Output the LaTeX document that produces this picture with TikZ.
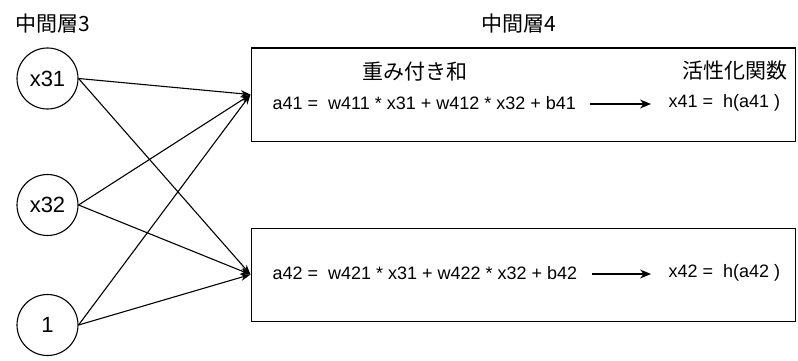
\documentclass[tikz,border=0pt]{standalone}
\usepackage{fontspec}
\setmainfont{Liberation Sans}
\newfontfamily\jpfont{Noto Sans CJK JP}
\usetikzlibrary{arrows.meta}

\begin{document}
\begin{tikzpicture}[x=1pt,y=-1pt,line width=1.1pt,
  neuron/.style={draw,circle,minimum size=61pt,inner sep=0pt,font=\fontsize{22}{26}\selectfont},
  layer/.style={draw,rectangle,minimum width=544.5pt,minimum height=93pt,anchor=north west},
  eq/.style={anchor=west,inner sep=0pt,font=\fontsize{18}{22}\selectfont},
  lbl/.style={inner sep=0pt,font=\jpfont\fontsize{21}{25}\selectfont},
  wire/.style={-{Stealth[length=10pt,width=7pt]}},
  calc/.style={-{Stealth[length=11pt,width=9pt]}}]
  \useasboundingbox (0,0) rectangle (798,361);
  % layer 3
  \node[lbl] (l3) at (53,24) {中間層3};
  \node[neuron] (x31) at (47.5,78.5) {x31};
  \node[neuron] (x32) at (47.5,205) {x32};
  \node[neuron] (one) at (47.5,325) {1};
  % layer 4
  \node[lbl] (l4) at (519,24) {中間層4};
  \node[layer] (h1) at (250.5,47.5) {};
  \node[layer] (h2) at (250.5,227.5) {};
  \node[lbl] (sum) at (415,72) {重み付き和};
  \node[lbl] (act) at (734.5,71) {活性化関数};
  \node[eq] (a41) at (272,103) {a41 =\ \ w411 * x31 + w412 * x32 + b41};
  \node[eq] (x41) at (668,103) {x41 =\ \ h(a41 )};
  \node[eq] (a42) at (272,273) {a42 =\ \ w421 * x31 + w422 * x32 + b42};
  \node[eq] (x42) at (668,273) {x42 =\ \ h(a42 )};
  \draw[calc] ([xshift=14pt,yshift=-1pt]a41.east) -- ([xshift=-17pt,yshift=-1pt]x41.west);
  \draw[calc] ([xshift=14pt,yshift=-1pt]a42.east) -- ([xshift=-17pt,yshift=-1pt]x42.west);
  % connections
  \foreach \s in {x31,x32,one}
    \foreach \t in {h1,h2}
      \draw[wire] (\s.east) -- (\t.west);
\end{tikzpicture}
\end{document}
